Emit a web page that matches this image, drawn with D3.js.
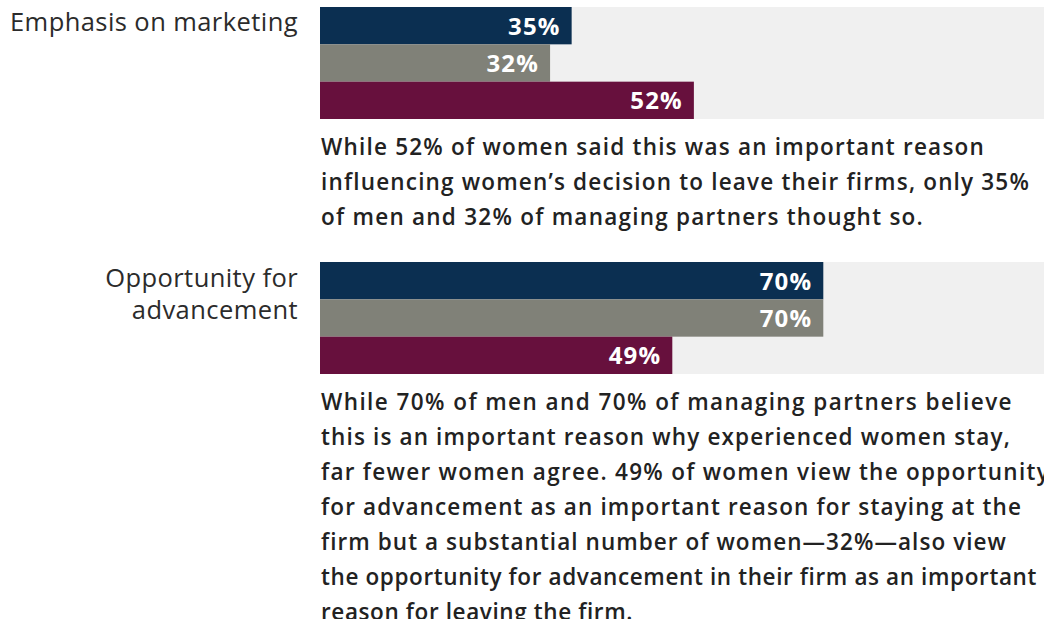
<!DOCTYPE html>
<html>
<head>
<meta charset="utf-8">
<script src="https://cdn.jsdelivr.net/npm/d3@7"></script>
<style>
  body { margin: 0; background: #fff; }
  svg { display: block; }
</style>
</head>
<body>
<div id="chart"></div>
<script>
// data
var categories = ["Emphasis on marketing", "Opportunity for advancement"];
var categoryLines = [["Emphasis on marketing"], ["Opportunity for", "advancement"]];
var series = ["Men", "Managing partners", "Women"];
var men = [35, 70];
var partners = [32, 70];
var women = [52, 49];
var notes = [
  ["While 52% of women said this was an important reason",
   "influencing women\u2019s decision to leave their firms, only 35%",
   "of men and 32% of managing partners thought so."],
  ["While 70% of men and 70% of managing partners believe",
   "this is an important reason why experienced women stay,",
   "far fewer women agree. 49% of women view the opportunity",
   "for advancement as an important reason for staying at the",
   "firm but a substantial number of women\u201432%\u2014also view",
   "the opportunity for advancement in their firm as an important",
   "reason for leaving the firm."]
];

var colors = ["#0b2f51", "#808178", "#67103d"];
var width = 1044, height = 619;
var groupTop = [7, 262];   // top of each bar block
var blockH = 112;
var font = "'Open Sans', sans-serif";
// right end of each note line in the original (the 3rd of the 2nd note runs off the edge)
var noteRight = [[985, 1030, 924], [1013, 1011, 1050, 1022, 1007, 1037, 633]];

var svg = d3.select("#chart").append("svg")
  .attr("width", width).attr("height", height);

var x = d3.scaleLinear().domain([0, 100]).range([320, 1039]);
var y = d3.scaleBand().domain(series).range([0, blockH]).padding(0);

// spread letters so the text reaches the wanted width
function fitSpacing(sel, target) {
  var w = sel.node().getComputedTextLength();
  return (target - w) / sel.text().length;
}

var probe2 = svg.append("text")
  .style("font-family", font).style("font-size", "25.5px")
  .text(categoryLines[0][0]);
var catSpacing = Math.max(0, fitSpacing(probe2, 288));
probe2.remove();

categories.forEach(function(cat, i) {
  var vals = [men[i], partners[i], women[i]];
  var g = svg.append("g").attr("transform", "translate(0," + groupTop[i] + ")");

  // light track behind the bars
  g.append("rect")
    .attr("x", x(0)).attr("y", 0)
    .attr("width", width - x(0)).attr("height", blockH)
    .attr("fill", "#f0f0f0");

  g.selectAll("rect.bar").data(vals).enter().append("rect")
    .attr("class", "bar")
    .attr("x", x(0))
    .attr("y", function(d, j) { return y(series[j]); })
    .attr("width", function(d) { return x(d) - x(0); })
    .attr("height", y.bandwidth())
    .attr("fill", function(d, j) { return colors[j]; });

  g.selectAll("text.val").data(vals).enter().append("text")
    .attr("class", "val")
    .attr("x", function(d) { return x(d) - 11; })
    .attr("y", function(d, j) { return y(series[j]) + y.bandwidth() / 2 + 9; })
    .attr("text-anchor", "end")
    .attr("fill", "#fff")
    .style("font-family", font).style("font-weight", 700).style("font-size", "24px")
    .style("letter-spacing", "1.2px")
    .text(function(d) { return d + "%"; });

  // category label on the left
  var lines = categoryLines[i];
  g.selectAll("text.cat").data(lines).enter().append("text")
    .attr("class", "cat")
    .attr("x", 298)
    .attr("y", function(d, k) { return (lines.length == 1 ? 24 : 25) + k * 32; })
    .attr("text-anchor", "end")
    .attr("fill", "#2b2b2b")
    .style("font-family", font).style("font-size", "25.5px")
    .style("letter-spacing", catSpacing + "px")
    .text(function(d) { return d; });

  // note under the bars
  var noteSel = svg.selectAll("text.note" + i).data(notes[i]).enter().append("text")
    .attr("class", "note" + i)
    .attr("x", 321)
    .attr("y", function(d, k) { return groupTop[i] + blockH + 36 + k * 35; })
    .attr("fill", "#222")
    .style("font-family", font).style("font-weight", 600).style("font-size", "22.5px")
    .text(function(d) { return d; });

  var sp = [];
  noteSel.each(function(d, k) {
    sp[k] = fitSpacing(d3.select(this), noteRight[i][k] - 321);
  });
  noteSel.style("letter-spacing", function(d, k) { return sp[k] + "px"; });
});
</script>
</body>
</html>
